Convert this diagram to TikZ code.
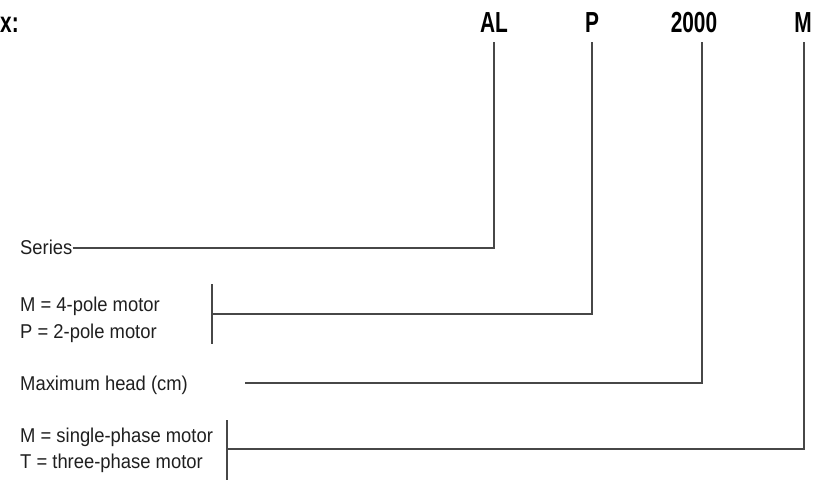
\documentclass[tikz,border=0pt]{standalone}
\usepackage{fontspec}
\setmainfont[FakeStretch=0.92]{Liberation Sans}
\newfontfamily\hdrfont[FakeStretch=0.72,UprightFont={* Bold}]{Liberation Sans}
\begin{document}
\begin{tikzpicture}[x=1pt,y=-1pt,
  lbl/.style={anchor=base west,inner sep=0pt,font=\fontsize{20}{24}\selectfont,text=black!88},
  hdr/.style={anchor=base,inner sep=0pt,font=\hdrfont\fontsize{29}{32}\selectfont},
  ln/.style={line width=1.2pt,draw=black!72}]
\useasboundingbox (0,0) rectangle (815,480);
% header
\node[hdr,anchor=base west] (hx) at (0,32) {x:};
\node[hdr] (hAL) at (494,32) {AL};
\node[hdr] (hP) at (592,32) {P};
\node[hdr] (h2000) at (694,32) {2000};
\node[hdr] (hM) at (803,32) {M};
\coordinate (tAL) at (494,42);
\coordinate (tP) at (592,42);
\coordinate (t2000) at (702,42);
\coordinate (tM) at (804,42);
% labels
\def\L{20}
\node[lbl] (series) at (\L,254) {Series};
\node[lbl] (m4) at (\L,311) {M = 4-pole motor};
\node[lbl] (p2) at (\L,338) {P = 2-pole motor};
\node[lbl] (head) at (\L,390) {Maximum head (cm)};
\node[lbl] (m1) at (\L,442) {M = single-phase motor};
\node[lbl] (t3) at (\L,468) {T = three-phase motor};
% brackets
\coordinate (b1t) at (212,284);
\coordinate (b1b) at (212,344);
\coordinate (b1m) at (212,314);
\coordinate (b2t) at (227,420);
\coordinate (b2b) at (227,480);
\coordinate (b2m) at (227,449);
\coordinate (hs) at (245,383);
% connectors
\draw[ln] (series.east |- 0,248) -| (tAL);
\draw[ln] (b1t) -- (b1b);
\draw[ln] (b1m) -| (tP);
\draw[ln] (hs) -| (t2000);
\draw[ln] (b2t) -- (b2b);
\draw[ln] (b2m) -| (tM);
\end{tikzpicture}
\end{document}
